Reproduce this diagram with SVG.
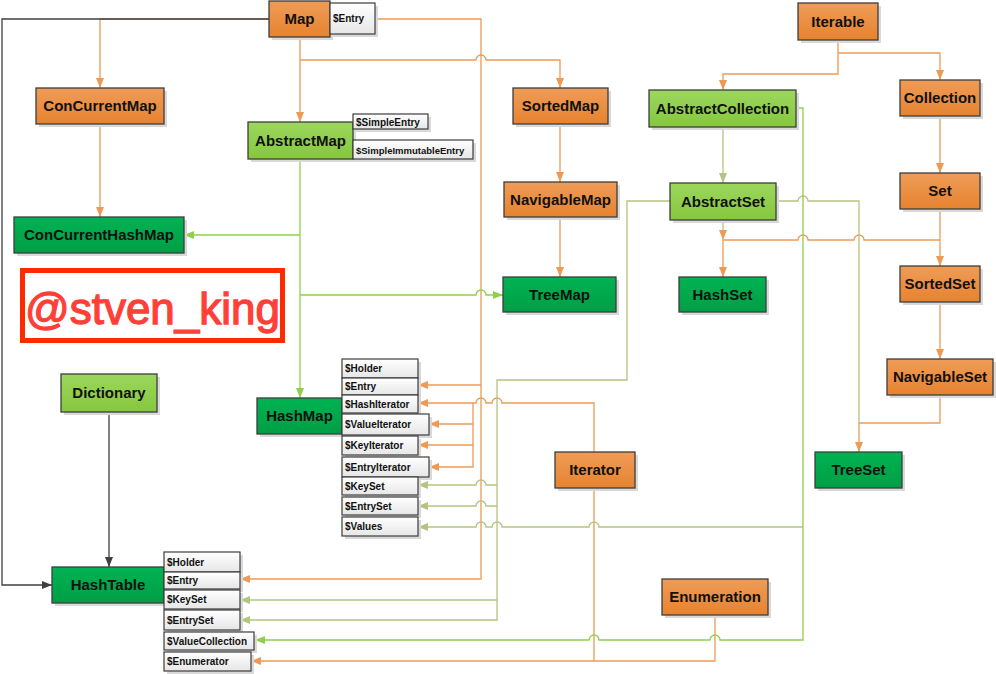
<svg xmlns="http://www.w3.org/2000/svg" width="996" height="674" viewBox="0 0 996 674">
<defs>
<linearGradient id="gOr" x1="0" y1="0" x2="0" y2="1"><stop offset="0" stop-color="#EF9C58"/><stop offset="1" stop-color="#E6832F"/></linearGradient>
<linearGradient id="gLg" x1="0" y1="0" x2="0" y2="1"><stop offset="0" stop-color="#9CD75E"/><stop offset="1" stop-color="#86C73C"/></linearGradient>
<linearGradient id="gDg" x1="0" y1="0" x2="0" y2="1"><stop offset="0" stop-color="#00B352"/><stop offset="1" stop-color="#009E45"/></linearGradient>
<linearGradient id="gIn" x1="0" y1="0" x2="0" y2="1"><stop offset="0" stop-color="#FFFFFF"/><stop offset="1" stop-color="#E6E6E6"/></linearGradient>
<marker id="aO" viewBox="0 0 10 8" refX="10" refY="4" markerWidth="10" markerHeight="8" markerUnits="userSpaceOnUse" orient="auto"><path d="M0,0 L10,4 L0,8 z" fill="#EE9A55"/></marker>
<marker id="aV" viewBox="0 0 10 8" refX="10" refY="4" markerWidth="10" markerHeight="8" markerUnits="userSpaceOnUse" orient="auto"><path d="M0,0 L10,4 L0,8 z" fill="#B2C57F"/></marker>
<marker id="aG" viewBox="0 0 10 8" refX="10" refY="4" markerWidth="10" markerHeight="8" markerUnits="userSpaceOnUse" orient="auto"><path d="M0,0 L10,4 L0,8 z" fill="#8FD04A"/></marker>
<marker id="aK" viewBox="0 0 10 8" refX="10" refY="4" markerWidth="10" markerHeight="8" markerUnits="userSpaceOnUse" orient="auto"><path d="M0,0 L10,4 L0,8 z" fill="#404040"/></marker>
</defs>
<style>
.sh{fill:#d9d9d9}
.or{fill:url(#gOr);stroke:#3d3d3d;stroke-width:1.3}
.lg{fill:url(#gLg);stroke:#3d3d3d;stroke-width:1.3}
.dg{fill:url(#gDg);stroke:#3d3d3d;stroke-width:1.3}
.in{fill:url(#gIn);stroke:#3d3d3d;stroke-width:1.2}
.t{font-family:"Liberation Sans",Arial,sans-serif;font-weight:bold;font-size:15px;text-anchor:middle;fill:#111}
.s{font-family:"Liberation Sans",Arial,sans-serif;font-weight:bold;font-size:10px;fill:#111}
.c{fill:none;stroke-width:1.3}
.o{stroke:#EE9A55}
.v{stroke:#B2C57F}
.g{stroke:#8FD04A}
.k{stroke:#404040}
.mo{marker-end:url(#aO)}
.mv{marker-end:url(#aV)}
.mg{marker-end:url(#aG)}
.mk{marker-end:url(#aK)}
</style>
<rect width="996" height="674" fill="#fff"/>

<g id="connectors">
<path class="c o mo" d="M269,19 H100 V88"/>
<path class="c o mo" d="M300,37 V122"/>
<path class="c o mo" d="M300,60 H476 a5,5 0 0 1 10,0 H560 V88"/>
<path class="c o mo" d="M375,19 H481 V579 H240"/>
<path class="c o mo" d="M481,385 H418"/>
<path class="c o mo" d="M100,124 V217"/>
<path class="c o mo" d="M560,124 V182"/>
<path class="c o mo" d="M560,217 V277"/>
<path class="c o mo" d="M838,40 V74 H723 V90"/>
<path class="c o mo" d="M838,53 H940 V80"/>
<path class="c o mo" d="M940,116 V173"/>
<path class="c o mo" d="M940,209 V266"/>
<path class="c o mo" d="M940,240 H864 a5,5 0 0 0 -10,0 H808 a5,5 0 0 0 -10,0 H723 V277"/>
<path class="c o mo" d="M940,302 V359"/>
<path class="c o mo" d="M940,395 V423 H859 V452"/>
<path class="c o mo" d="M594,452 V403 H502 a5,5 0 0 0 -10,0 H486 a5,5 0 0 0 -10,0 H418"/>
<path class="c o mo" d="M473,403 V467 H429"/>
<path class="c o mo" d="M473,424 H429"/>
<path class="c o mo" d="M473,445 H418"/>
<path class="c o mo" d="M594,488 V661 H251"/>
<path class="c o" d="M715,615 V661 H594"/>
<path class="c v mo" d="M723,220 V240"/>
<path class="c v mv" d="M723,127 V183"/>
<path class="c v" d="M776,201 H798 a5,5 0 0 1 10,0 H859 V423"/>
<path class="c v mv" d="M670,201 H627 V380 H497 V620 H240"/>
<path class="c v mv" d="M497,600 H240"/>
<path class="c v mv" d="M497,485 H486 a5,5 0 0 0 -10,0 H418"/>
<path class="c v mv" d="M497,506 H486 a5,5 0 0 0 -10,0 H418"/>
<path class="c v mv" d="M803,527 H599 a5,5 0 0 0 -10,0 H502 a5,5 0 0 0 -10,0 H486 a5,5 0 0 0 -10,0 H418"/>
<path class="c g mg" d="M300,159 V398"/>
<path class="c g mg" d="M300,235 H184"/>
<path class="c g mg" d="M300,295 H476 a5,5 0 0 1 10,0 H503"/>
<path class="c g mg" d="M796,108 H803 V640 H720 a5,5 0 0 0 -10,0 H599 a5,5 0 0 0 -10,0 H255"/>
<path class="c k mk" d="M269,19 H2 V585 H52"/>
<path class="c k mk" d="M109,413 V567"/>
</g>

<g id="watermark">
<rect x="22.5" y="270.5" width="260" height="70" fill="none" stroke="#FF2A00" stroke-width="5"/>
<text x="152.5" y="324" font-family="Liberation Sans, Arial, sans-serif" font-size="44" text-anchor="middle" fill="#FF4038" stroke="#FF4038" stroke-width="1.3">@stven_king</text>
</g>

<g id="map"><rect class="sh" x="272" y="4" width="61" height="36"/><rect class="or" x="269" y="1" width="61" height="36"/><text class="t" x="299.5" y="24">Map</text></g>
<g id="map-entry"><rect class="sh" x="333" y="6" width="45" height="31"/><rect class="in" x="330" y="3" width="45" height="31"/><text class="s" x="333" y="22">$Entry</text></g>
<g id="concurrentmap"><rect class="sh" x="39" y="91" width="128" height="36"/><rect class="or" x="36" y="88" width="128" height="36"/><text class="t" x="100" y="111">ConCurrentMap</text></g>
<g id="abstractmap"><rect class="sh" x="251" y="125" width="105" height="37"/><rect class="lg" x="248" y="122" width="105" height="37"/><text class="t" x="300.5" y="145.5">AbstractMap</text></g>
<g id="abstractmap-simpleentry"><rect class="sh" x="356" y="117" width="75" height="15"/><rect class="in" x="353" y="114" width="75" height="15"/><text class="s" x="356" y="125.5">$SimpleEntry</text></g>
<g id="abstractmap-simpleimmutableentry"><rect class="sh" x="356" y="143" width="120" height="19"/><rect class="in" x="353" y="140" width="120" height="19"/><text class="s" x="356" y="153.5" style="font-size:9.5px">$SimpleImmutableEntry</text></g>
<g id="sortedmap"><rect class="sh" x="516" y="91" width="95" height="36"/><rect class="or" x="513" y="88" width="95" height="36"/><text class="t" x="560.5" y="111">SortedMap</text></g>
<g id="navigablemap"><rect class="sh" x="507" y="185" width="113" height="35"/><rect class="or" x="504" y="182" width="113" height="35"/><text class="t" x="560.5" y="204.5">NavigableMap</text></g>
<g id="treemap"><rect class="sh" x="506" y="280" width="113" height="35"/><rect class="dg" x="503" y="277" width="113" height="35"/><text class="t" x="559.5" y="299.5">TreeMap</text></g>
<g id="concurrenthashmap"><rect class="sh" x="17" y="220" width="170" height="36"/><rect class="dg" x="14" y="217" width="170" height="36"/><text class="t" x="99" y="240">ConCurrentHashMap</text></g>
<g id="iterable"><rect class="sh" x="801" y="6" width="80" height="37"/><rect class="or" x="798" y="3" width="80" height="37"/><text class="t" x="838" y="26.5">Iterable</text></g>
<g id="abstractcollection"><rect class="sh" x="652" y="93" width="147" height="37"/><rect class="lg" x="649" y="90" width="147" height="37"/><text class="t" x="722.5" y="113.5">AbstractCollection</text></g>
<g id="collection"><rect class="sh" x="903" y="83" width="80" height="36"/><rect class="or" x="900" y="80" width="80" height="36"/><text class="t" x="940" y="103">Collection</text></g>
<g id="set"><rect class="sh" x="903" y="176" width="80" height="36"/><rect class="or" x="900" y="173" width="80" height="36"/><text class="t" x="940" y="196">Set</text></g>
<g id="abstractset"><rect class="sh" x="673" y="186" width="106" height="37"/><rect class="lg" x="670" y="183" width="106" height="37"/><text class="t" x="723" y="206.5">AbstractSet</text></g>
<g id="hashset"><rect class="sh" x="682" y="280" width="87" height="35"/><rect class="dg" x="679" y="277" width="87" height="35"/><text class="t" x="722.5" y="299.5">HashSet</text></g>
<g id="sortedset"><rect class="sh" x="903" y="269" width="80" height="36"/><rect class="or" x="900" y="266" width="80" height="36"/><text class="t" x="940" y="289">SortedSet</text></g>
<g id="navigableset"><rect class="sh" x="890" y="362" width="106" height="36"/><rect class="or" x="887" y="359" width="106" height="36"/><text class="t" x="940" y="382">NavigableSet</text></g>
<g id="treeset"><rect class="sh" x="818" y="455" width="87" height="36"/><rect class="dg" x="815" y="452" width="87" height="36"/><text class="t" x="858.5" y="475">TreeSet</text></g>
<g id="dictionary"><rect class="sh" x="64" y="377" width="96" height="38"/><rect class="lg" x="61" y="374" width="96" height="38"/><text class="t" x="109" y="398">Dictionary</text></g>
<g id="iterator"><rect class="sh" x="558" y="455" width="80" height="36"/><rect class="or" x="555" y="452" width="80" height="36"/><text class="t" x="595" y="475">Iterator</text></g>
<g id="enumeration"><rect class="sh" x="665" y="582" width="106" height="36"/><rect class="or" x="662" y="579" width="106" height="36"/><text class="t" x="715" y="602">Enumeration</text></g>

<g id="hashmap"><rect class="sh" x="260" y="401" width="85" height="36"/><rect class="dg" x="257" y="398" width="85" height="36"/><text class="t" x="299.5" y="421">HashMap</text></g>
<g id="hashmap-holder"><rect class="sh" x="345" y="362" width="76" height="19"/><rect class="in" x="342" y="359" width="76" height="19"/><text class="s" x="345" y="372">$Holder</text></g>
<g id="hashmap-entry"><rect class="sh" x="345" y="381" width="76" height="17"/><rect class="in" x="342" y="378" width="76" height="17"/><text class="s" x="345" y="390">$Entry</text></g>
<g id="hashmap-hashiterator"><rect class="sh" x="345" y="398" width="76" height="18"/><rect class="in" x="342" y="395" width="76" height="18"/><text class="s" x="345" y="407.5">$HashIterator</text></g>
<g id="hashmap-valueiterator"><rect class="sh" x="345" y="417" width="87" height="21"/><rect class="in" x="342" y="414" width="87" height="21"/><text class="s" x="345" y="428">$ValueIterator</text></g>
<g id="hashmap-keyiterator"><rect class="sh" x="345" y="439" width="76" height="19"/><rect class="in" x="342" y="436" width="76" height="19"/><text class="s" x="345" y="449">$KeyIterator</text></g>
<g id="hashmap-entryiterator"><rect class="sh" x="345" y="460" width="87" height="20"/><rect class="in" x="342" y="457" width="87" height="20"/><text class="s" x="345" y="470.5">$EntryIterator</text></g>
<g id="hashmap-keyset"><rect class="sh" x="345" y="480" width="76" height="18"/><rect class="in" x="342" y="477" width="76" height="18"/><text class="s" x="345" y="489.5">$KeySet</text></g>
<g id="hashmap-entryset"><rect class="sh" x="345" y="500" width="76" height="18"/><rect class="in" x="342" y="497" width="76" height="18"/><text class="s" x="345" y="509.5">$EntrySet</text></g>
<g id="hashmap-values"><rect class="sh" x="345" y="520" width="76" height="19"/><rect class="in" x="342" y="517" width="76" height="19"/><text class="s" x="345" y="530">$Values</text></g>

<g id="hashtable"><rect class="sh" x="55" y="570" width="112" height="36"/><rect class="dg" x="52" y="567" width="112" height="36"/><text class="t" x="108" y="590">HashTable</text></g>
<g id="hashtable-holder"><rect class="sh" x="167" y="555" width="76" height="20"/><rect class="in" x="164" y="552" width="76" height="20"/><text class="s" x="167" y="565.5">$Holder</text></g>
<g id="hashtable-entry"><rect class="sh" x="167" y="575" width="76" height="17"/><rect class="in" x="164" y="572" width="76" height="17"/><text class="s" x="167" y="583.5">$Entry</text></g>
<g id="hashtable-keyset"><rect class="sh" x="167" y="593" width="76" height="19"/><rect class="in" x="164" y="590" width="76" height="19"/><text class="s" x="167" y="603">$KeySet</text></g>
<g id="hashtable-entryset"><rect class="sh" x="167" y="613" width="76" height="20"/><rect class="in" x="164" y="610" width="76" height="20"/><text class="s" x="167" y="623.5">$EntrySet</text></g>
<g id="hashtable-valuecollection"><rect class="sh" x="167" y="635" width="90" height="18"/><rect class="in" x="164" y="632" width="90" height="18"/><text class="s" x="167" y="644.5">$ValueCollection</text></g>
<g id="hashtable-enumerator"><rect class="sh" x="167" y="655" width="87" height="19"/><rect class="in" x="164" y="652" width="87" height="19"/><text class="s" x="167" y="665">$Enumerator</text></g>
</svg>
